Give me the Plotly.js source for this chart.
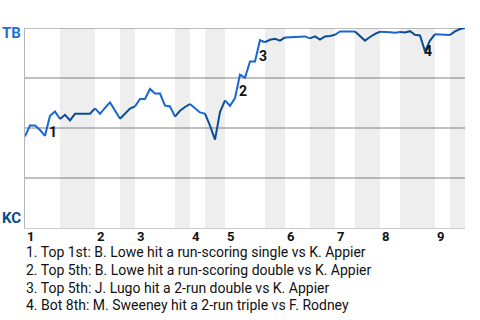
<!DOCTYPE html>
<html>
<head>
<meta charset="utf-8">
<script src="https://cdn.plot.ly/plotly-3.0.1.min.js"></script>
<style>html,body{margin:0;padding:0;background:#fff;}#chart{width:480px;height:320px;}</style>
</head>
<body>
<div id="chart"></div>
<script>
// Win probability for TB (away) after each plate appearance (index 0 = first pitch)
const tbWinProb = [
  0.458, 0.513, 0.513, 0.490, 0.461, 0.561, 0.583, 0.545, 0.566, 0.538,
  0.571, 0.571, 0.571, 0.571, 0.598, 0.571, 0.601, 0.628, 0.587, 0.546,
  0.571, 0.597, 0.608, 0.645, 0.645, 0.695, 0.672, 0.672, 0.612, 0.608,
  0.557, 0.586, 0.605, 0.620, 0.600, 0.578, 0.572, 0.512, 0.442, 0.580,
  0.638, 0.611, 0.650, 0.767, 0.751, 0.833, 0.833, 0.939, 0.929, 0.941,
  0.946, 0.937, 0.953, 0.954, 0.955, 0.955, 0.958, 0.948, 0.958, 0.942,
  0.958, 0.960, 0.966, 0.983, 0.983, 0.983, 0.983, 0.958, 0.937, 0.955,
  0.971, 0.981, 0.981, 0.979, 0.976, 0.980, 0.978, 0.984, 0.966, 0.963,
  0.883, 0.937, 0.969, 0.968, 0.967, 0.965, 0.983, 0.995, 1.000
];
// plate appearances per half inning: top1, bot1, top2, bot2, ...
const halfInningPA = [7, 7, 5, 3, 8, 3, 3, 4, 8, 4, 5, 5, 4, 5, 4, 7, 3, 3];
const inningLabels = ["1", "2", "3", "4", "5", "6", "7", "8", "9"];
const teamTop = "TB";
const teamBottom = "KC";
// key events: plate-appearance index and description
const eventIndex = [5, 43, 47, 80];
const eventText = [
  "1. Top 1st: B. Lowe hit a run-scoring single vs K. Appier",
  "2. Top 5th: B. Lowe hit a run-scoring double vs K. Appier",
  "3. Top 5th: J. Lugo hit a 2-run double vs K. Appier",
  "4. Bot 8th: M. Sweeney hit a 2-run triple vs F. Rodney"
];

const TB_COLOR = "#1766d4";
const KC_COLOR = "#0b4d92";
const FONT = "Roboto, Arial, sans-serif";

// half-inning boundaries
const bounds = [0];
halfInningPA.forEach(n => bounds.push(bounds[bounds.length - 1] + n));
const totalPA = bounds[bounds.length - 1];

const traces = [];
const shapes = [];
for (let h = 0; h < halfInningPA.length; h++) {
  const s = bounds[h], e = bounds[h + 1];
  const xs = [], ys = [];
  for (let k = s; k <= e; k++) { xs.push(k); ys.push(tbWinProb[k]); }
  const isBottom = h % 2 === 1;
  traces.push({
    x: xs, y: ys, type: "scatter", mode: "lines",
    line: {color: isBottom ? KC_COLOR : TB_COLOR, width: 2},
    hoverinfo: "skip", showlegend: false
  });
  if (isBottom) {
    shapes.push({type: "rect", xref: "x", yref: "paper", x0: s, x1: e, y0: 0, y1: 1,
      fillcolor: "#eeeeee", line: {width: 0}, layer: "below"});
  }
}
[0.25, 0.5, 0.75, 1].forEach(v => {
  shapes.push({type: "line", xref: "paper", yref: "y", x0: 0, x1: 1, y0: v, y1: v,
    line: {color: "#808080", width: 1}, layer: "below"});
});

const annotations = [];
// inning labels at start of each inning
inningLabels.forEach((lab, i) => {
  annotations.push({x: bounds[2 * i], y: 0, xref: "x", yref: "paper", text: "<b>" + lab + "</b>",
    showarrow: false, xanchor: "left", yanchor: "top", yshift: 1, xshift: 0,
    font: {family: FONT, size: 13, color: "#111"}});
});
// event markers
eventIndex.forEach((k, i) => {
  const yv = Math.max(tbWinProb[k - 1], tbWinProb[k]);
  annotations.push({x: k, y: yv, xref: "x", yref: "y", text: "<b>" + (i + 1) + "</b>",
    showarrow: false, xanchor: "center", yanchor: "middle", xshift: 3, yshift: -16,
    font: {family: FONT, size: 14, color: "#111"}});
});
// team labels
annotations.push({x: 0, y: 1, xref: "paper", yref: "y", text: "<b>" + teamTop + "</b>",
  showarrow: false, xanchor: "right", yanchor: "middle", xshift: -2, yshift: -5,
  font: {family: FONT, size: 15, color: "#1a6fd8"}});
annotations.push({x: 0, y: 0, xref: "paper", yref: "y", text: "<b>" + teamBottom + "</b>",
  showarrow: false, xanchor: "right", yanchor: "middle", xshift: -2, yshift: 10,
  font: {family: FONT, size: 15, color: "#0b4a8a"}});
// event descriptions
eventText.forEach((t, i) => {
  annotations.push({x: 0, y: 0, xref: "paper", yref: "paper", text: t,
    showarrow: false, xanchor: "left", yanchor: "middle", xshift: -1, yshift: -24 - 17.8 * i,
    font: {family: FONT, size: 14, color: "#111"}});
});

const layout = {
  width: 480, height: 320,
  margin: {l: 25, r: 15, t: 28, b: 92, pad: 0},
  paper_bgcolor: "#fff", plot_bgcolor: "#fff",
  xaxis: {range: [0, totalPA], showgrid: false, zeroline: false, showticklabels: false,
    ticks: "", showline: true, linecolor: "#cccccc", linewidth: 1, fixedrange: true},
  yaxis: {range: [0, 1], showgrid: false, zeroline: false, showticklabels: false,
    ticks: "", showline: true, linecolor: "#b5b5b5", linewidth: 1, fixedrange: true},
  shapes: shapes,
  annotations: annotations,
  showlegend: false
};

Plotly.newPlot("chart", traces, layout, {displayModeBar: false, staticPlot: true});
</script>
</body>
</html>
